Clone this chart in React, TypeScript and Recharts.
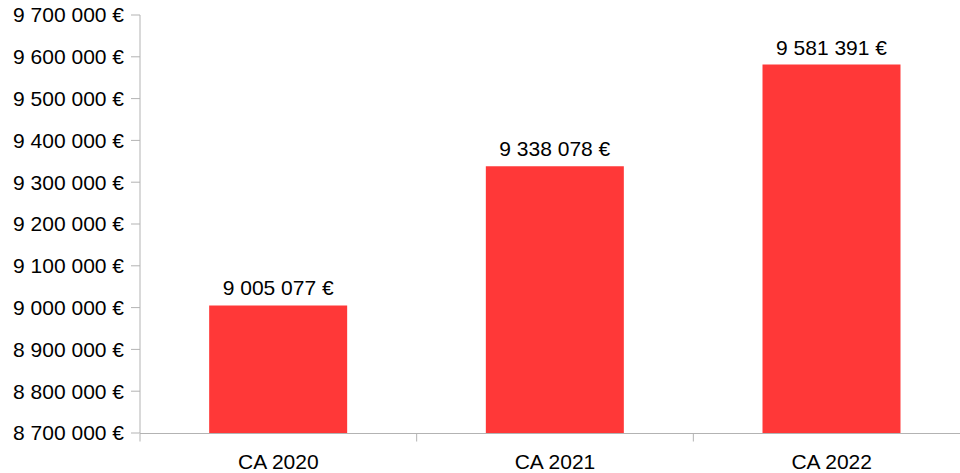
import { BarChart, Bar, XAxis, YAxis, LabelList } from "recharts";

const categories = ["CA 2020", "CA 2021", "CA 2022"];
const revenues = [9005077, 9338078, 9581391];
const yTicks = [8700000, 8800000, 8900000, 9000000, 9100000, 9200000, 9300000, 9400000, 9500000, 9600000, 9700000];
const bandEdges = [0, 1, 2, 3];

const data = categories.map((name, i) => ({ name, value: revenues[i], pos: i + 0.5 }));

const euro = (v: number) => `${String(Math.round(v)).replace(/\B(?=(\d{3})+(?!\d))/g, " ")} €`;

const font = { fontFamily: "'Liberation Sans', Arial, sans-serif", fontSize: 21, fill: "#000" };

export default function App() {
  return (
    <div style={{ position: "absolute", left: 0, top: 0, width: 960, height: 473, overflow: "hidden", background: "#fff" }}>
      <BarChart
        width={970}
        height={473}
        data={data}
        margin={{ top: 15, right: 0, bottom: 0, left: 0 }}
        barCategoryGap="25%"
      >
        {/* band boundary ticks + axis line */}
        <XAxis
          xAxisId="edges"
          type="number"
          dataKey="pos"
          domain={[0, 3]}
          ticks={bandEdges}
          interval={0}
          height={39.5}
          tickFormatter={() => ""}
          tickSize={8}
          stroke="#b3b3b3"
        />
        {/* category labels */}
        <XAxis
          dataKey="name"
          height={0.5}
          axisLine={false}
          tickLine={false}
          tickSize={8}
          tickMargin={13}
          tick={font}
        />
        <YAxis
          width={140}
          domain={[8700000, 9700000]}
          ticks={yTicks}
          tickFormatter={euro}
          tick={font}
          tickSize={9}
          tickMargin={7}
          stroke="#b3b3b3"
          interval={0}
        />
        <Bar dataKey="value" fill="#ff3838" isAnimationActive={false}>
          <LabelList dataKey="value" position="top" offset={10} formatter={(v: number) => euro(v)} style={font} />
        </Bar>
      </BarChart>
    </div>
  );
}
